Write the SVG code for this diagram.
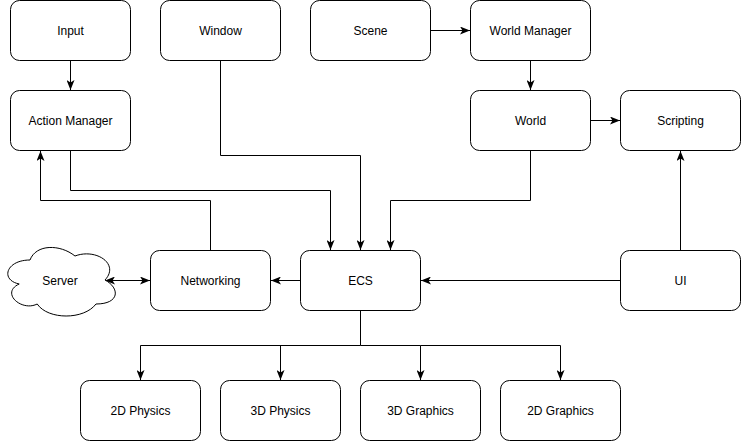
<svg xmlns="http://www.w3.org/2000/svg" width="741" height="441" viewBox="0 0 741 441">
<style>
.box{fill:#fff;stroke:#000;stroke-width:1}
.lbl{font-family:"Liberation Sans",Arial,sans-serif;font-size:12px;fill:#000;text-anchor:middle;dominant-baseline:central}
.edge{fill:none;stroke:#000;stroke-width:1}
</style>
<defs>
<marker id="arr" viewBox="0 0 10 8" refX="10" refY="4" markerWidth="10" markerHeight="8" markerUnits="userSpaceOnUse" orient="auto-start-reverse">
<path d="M0,0 L10,4 L0,8 L2.5,4 z" fill="#000"/>
</marker>
</defs>
<rect width="741" height="441" fill="#fff"/>
<g id="connectors">
<path class="edge" d="M70.5,60.5 V90" marker-end="url(#arr)"/>
<path class="edge" d="M430.5,30.5 H470" marker-end="url(#arr)"/>
<path class="edge" d="M530.5,60.5 V90" marker-end="url(#arr)"/>
<path class="edge" d="M590.5,120.5 H620" marker-end="url(#arr)"/>
<path class="edge" d="M70.5,150.5 V190.5 H330.5 V250" marker-end="url(#arr)"/>
<path class="edge" d="M220.5,60.5 V155.5 H360.5 V250" marker-end="url(#arr)"/>
<path class="edge" d="M530.5,150.5 V200.5 H390.5 V250" marker-end="url(#arr)"/>
<path class="edge" d="M210.5,250.5 V200.5 H40.5 V151" marker-end="url(#arr)"/>
<path class="edge" d="M300.5,280.5 H271" marker-end="url(#arr)"/>
<path class="edge" d="M105,280.5 H150" marker-start="url(#arr)" marker-end="url(#arr)"/>
<path class="edge" d="M620.5,280.5 H421" marker-end="url(#arr)"/>
<path class="edge" d="M680.5,250.5 V151" marker-end="url(#arr)"/>
<path class="edge" d="M360.5,310.5 V345.5 H140.5 V380" marker-end="url(#arr)"/>
<path class="edge" d="M280.5,345.5 V380" marker-end="url(#arr)"/>
<path class="edge" d="M360.5,345.5 H420.5 V380" marker-end="url(#arr)"/>
<path class="edge" d="M420.5,345.5 H560.5 V380" marker-end="url(#arr)"/>
</g>
<g id="input"><rect class="box" x="10.5" y="0.5" width="120" height="60" rx="9"/><text class="lbl" x="70.5" y="30.5">Input</text></g>
<g id="window"><rect class="box" x="160.5" y="0.5" width="120" height="60" rx="9"/><text class="lbl" x="220.5" y="30.5">Window</text></g>
<g id="scene"><rect class="box" x="310.5" y="0.5" width="120" height="60" rx="9"/><text class="lbl" x="370.5" y="30.5">Scene</text></g>
<g id="world-manager"><rect class="box" x="470.5" y="0.5" width="120" height="60" rx="9"/><text class="lbl" x="530.5" y="30.5">World Manager</text></g>
<g id="action-manager"><rect class="box" x="10.5" y="90.5" width="120" height="60" rx="9"/><text class="lbl" x="70.5" y="120.5">Action Manager</text></g>
<g id="world"><rect class="box" x="470.5" y="90.5" width="120" height="60" rx="9"/><text class="lbl" x="530.5" y="120.5">World</text></g>
<g id="scripting"><rect class="box" x="620.5" y="90.5" width="120" height="60" rx="9"/><text class="lbl" x="680.5" y="120.5">Scripting</text></g>
<g id="server"><path class="box" d="M30,260 C6,260 0,280 19.2,284 C0,292.8 21.6,312 37.2,304 C48,320 84,320 96,304 C120,304 120,288 105,280 C120,264 96,248 75,256 C60,244 36,244 30,260 Z"/><text class="lbl" x="60" y="280.5">Server</text></g>
<g id="networking"><rect class="box" x="150.5" y="250.5" width="120" height="60" rx="9"/><text class="lbl" x="210.5" y="280.5">Networking</text></g>
<g id="ecs"><rect class="box" x="300.5" y="250.5" width="120" height="60" rx="9"/><text class="lbl" x="360.5" y="280.5">ECS</text></g>
<g id="ui"><rect class="box" x="620.5" y="250.5" width="120" height="60" rx="9"/><text class="lbl" x="680.5" y="280.5">UI</text></g>
<g id="physics-2d"><rect class="box" x="80.5" y="380.5" width="120" height="60" rx="9"/><text class="lbl" x="140.5" y="410.5">2D Physics</text></g>
<g id="physics-3d"><rect class="box" x="220.5" y="380.5" width="120" height="60" rx="9"/><text class="lbl" x="280.5" y="410.5">3D Physics</text></g>
<g id="graphics-3d"><rect class="box" x="360.5" y="380.5" width="120" height="60" rx="9"/><text class="lbl" x="420.5" y="410.5">3D Graphics</text></g>
<g id="graphics-2d"><rect class="box" x="500.5" y="380.5" width="120" height="60" rx="9"/><text class="lbl" x="560.5" y="410.5">2D Graphics</text></g>
</svg>
